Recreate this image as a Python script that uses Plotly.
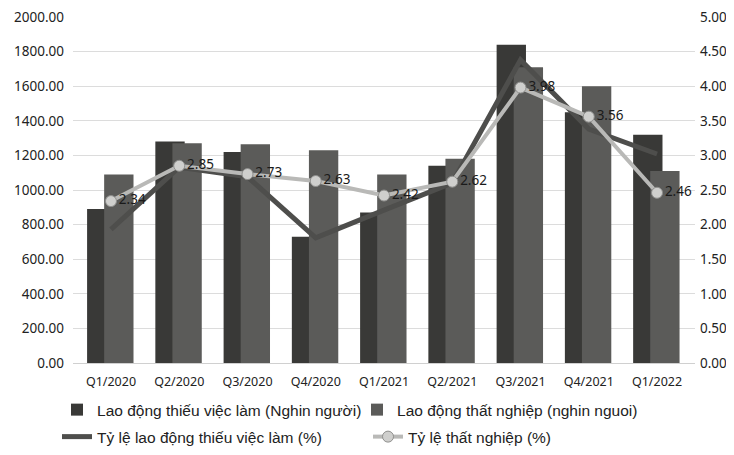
import plotly.graph_objects as go

categories = ["Q1/2020", "Q2/2020", "Q3/2020", "Q4/2020", "Q1/2021",
              "Q2/2021", "Q3/2021", "Q4/2021", "Q1/2022"]
thieu_viec_lam = [890, 1280, 1220, 730, 870, 1140, 1840, 1450, 1320]
that_nghiep = [1090, 1270, 1265, 1230, 1090, 1180, 1710, 1600, 1110]
ty_le_thieu = [1.93, 2.83, 2.69, 1.81, 2.21, 2.60, 4.38, 3.38, 3.02]
ty_le_that_nghiep = [2.34, 2.85, 2.73, 2.63, 2.42, 2.62, 3.98, 3.56, 2.46]

left_ticks = [i * 200 for i in range(11)]
right_ticks = [i * 0.5 for i in range(11)]

fig = go.Figure()
fig.add_trace(go.Bar(
    x=categories, y=thieu_viec_lam, name="Lao động thiếu việc làm (Nghin người)",
    marker=dict(color="#393937", line=dict(width=0)), width=0.43, offset=-0.35,
    legend="legend",
))
fig.add_trace(go.Bar(
    x=categories, y=that_nghiep, name="Lao động thất nghiệp (nghin nguoi)",
    marker=dict(color="#5b5b59", line=dict(width=0)), width=0.43, offset=-0.10,
    legend="legend",
))
fig.add_trace(go.Scatter(
    x=categories, y=ty_le_thieu, name="Tỷ lệ lao động thiếu việc làm (%)",
    mode="lines", line=dict(color="#4e4e4c", width=5), yaxis="y2",
    legend="legend2",
))
fig.add_trace(go.Scatter(
    x=categories, y=ty_le_that_nghiep, name="Tỷ lệ thất nghiệp (%)",
    mode="lines+markers+text", line=dict(color="#b9b9b7", width=4), yaxis="y2",
    marker=dict(size=11, color="#cfcfcd", line=dict(color="#8f8f8d", width=1)),
    text=[f"{v:.2f}" for v in ty_le_that_nghiep], textposition="middle right",
    textfont=dict(family="Noto Sans", size=13.5, color="#1a1a1a"),
    legend="legend2",
))

xfont = dict(family="Noto Sans", size=12.5, color="#222222")
yfont = dict(family="Noto Sans", size=13.5, color="#222222")
legfont = dict(family="Liberation Sans", size=15.5, color="#222222")
fig.update_layout(
    width=726, height=447,
    margin=dict(l=65, r=39, t=9, b=92, autoexpand=False),
    paper_bgcolor="white", plot_bgcolor="white",
    barmode="overlay",
    showlegend=True,
    legend=dict(orientation="h", xref="container", x=0.0675, xanchor="left",
                y=-0.136, yanchor="middle", entrywidth=255,
                entrywidthmode="pixels", font=legfont, itemwidth=30,
                bgcolor="rgba(0,0,0,0)"),
    legend2=dict(orientation="h", xref="container", x=0.0675, xanchor="left",
                 y=-0.214, yanchor="middle", entrywidth=266,
                 entrywidthmode="pixels", font=legfont, itemwidth=30,
                 bgcolor="rgba(0,0,0,0)"),
    xaxis=dict(tickfont=xfont, showgrid=False, showline=True,
               linecolor="#d0d0d0", ticks="", ticklabelstandoff=7),
    yaxis=dict(range=[0, 2000], tickvals=left_ticks, tickformat=".2f",
               tickfont=yfont, showgrid=True, gridcolor="#dcdcdc",
               gridwidth=1, zeroline=False, ticklabelstandoff=8,
               ticklabeloverflow="allow"),
    yaxis2=dict(range=[0, 5], tickvals=right_ticks, tickformat=".2f",
                overlaying="y", side="right", tickfont=yfont,
                showgrid=False, zeroline=False, ticklabelstandoff=4,
                ticklabeloverflow="allow"),
)

fig.write_html("out.html")
